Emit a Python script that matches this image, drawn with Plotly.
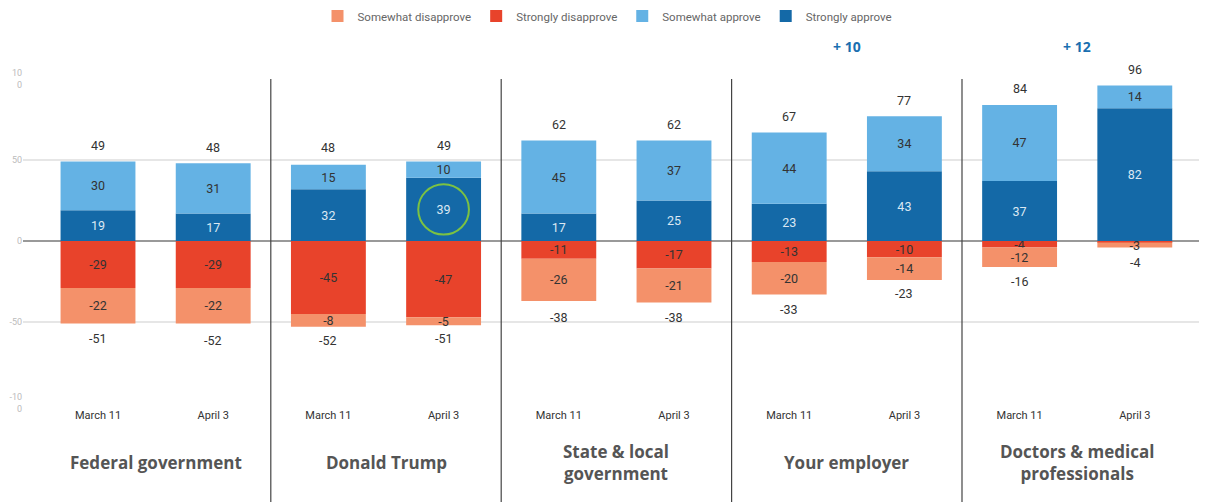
import plotly.graph_objects as go

date_labels = ["March 11", "April 3"] * 5
groups = ["Federal government", "Donald Trump", "State & local<br>government",
          "Your employer", "Doctors & medical<br>professionals"]

strongly_approve = [19, 17, 32, 39, 17, 25, 23, 43, 37, 82]
somewhat_approve = [30, 31, 15, 10, 45, 37, 44, 34, 47, 14]
strongly_disapprove = [-29, -29, -45, -47, -11, -17, -13, -10, -4, -1]
somewhat_disapprove = [-22, -22, -8, -5, -26, -21, -20, -14, -12, -3]
total_approve = [49, 48, 48, 49, 62, 62, 67, 77, 84, 96]
total_disapprove = [-51, -52, -52, -51, -38, -38, -33, -23, -16, -4]
change_groups = [3, 4]
change_labels = ["+ 10", "+ 12"]
highlight_index = 3

x = list(range(len(date_labels)))

C_SOD = "#f4916a"
C_SD = "#e8432b"
C_SOA = "#64b2e4"
C_SA = "#1469a7"

# page has an 8px body margin; figure size compensates so it fits the 1207x502 window
W, H = 1199, 494
L = 15

fig = go.Figure()

def add_bar(vals, name, color, rank, txtcolor):
    fig.add_trace(go.Bar(
        x=x, y=vals, name=name, marker=dict(color=color, line=dict(width=0)),
        width=0.65, text=[str(v) for v in vals], textposition="inside",
        insidetextanchor="middle", textangle=0, constraintext="none",
        textfont=dict(family="Roboto", size=12.5, color=txtcolor),
        legendrank=rank, hoverinfo="skip"))

add_bar(strongly_disapprove, "Strongly disapprove", C_SD, 2, "#333333")
add_bar(somewhat_disapprove, "Somewhat disapprove", C_SOD, 1, "#333333")
add_bar(strongly_approve, "Strongly approve", C_SA, 4, "#dbe8f3")
add_bar(somewhat_approve, "Somewhat approve", C_SOA, 3, "#333333")

# totals
for xi, tp, tn in zip(x, total_approve, total_disapprove):
    fig.add_annotation(x=xi, y=tp, text=str(tp), showarrow=False, yshift=16,
                       font=dict(family="Roboto", size=12.5, color="#333333"))
    fig.add_annotation(x=xi, y=tn, text=str(tn), showarrow=False, yshift=-15,
                       font=dict(family="Roboto", size=12.5, color="#333333"))

# group separators
for g in range(1, len(groups)):
    xs = 2 * g - 0.5
    fig.add_shape(type="line", xref="x", yref="paper", x0=xs, x1=xs, y0=1, y1=-0.31,
                  line=dict(color="#444444", width=1.2))

# group labels
for g, lab in enumerate(groups):
    fig.add_annotation(x=2 * g + 0.5, y=-0.185, xref="x", yref="paper", text=f"<b>{lab}</b>",
                       showarrow=False, font=dict(family="Open Sans", size=17, color="#555555"),
                       yanchor="middle")

# change annotations
for g, lab in zip(change_groups, change_labels):
    fig.add_annotation(x=2 * g + 0.5, y=1.1, xref="x", yref="paper", text=f"<b>{lab}</b>",
                       showarrow=False, font=dict(family="Open Sans", size=14, color="#1a6fb0"),
                       yanchor="middle")

# highlight circle
cy = strongly_approve[highlight_index] / 2
fig.add_shape(type="circle", xref="x", yref="y",
              x0=highlight_index - 0.22, x1=highlight_index + 0.22,
              y0=cy - 15.5, y1=cy + 15.5, line=dict(color="#7cc242", width=2))

px_per_unit = 115.2
x_min = -(90 - L) / px_per_unit
x_max = x_min + (W - L) / px_per_unit

fig.update_layout(
    barmode="relative",
    width=W, height=H,
    margin=dict(l=L, r=0, t=71, b=99, autoexpand=False),
    paper_bgcolor="white", plot_bgcolor="white",
    font=dict(family="Roboto", color="#333333"),
    uniformtext=dict(minsize=12, mode="show"),
    legend=dict(orientation="h", x=0.5, xanchor="center", xref="container",
                y=1 - 8 / H, yanchor="middle", yref="container",
                font=dict(family="Roboto", size=11.5, color="#666666"),
                traceorder="normal"),
    xaxis=dict(tickvals=x, ticktext=date_labels, range=[x_min, x_max],
               showgrid=False, zeroline=False, showline=False, ticks="",
               automargin=False, ticklabelstandoff=4,
               tickfont=dict(family="Roboto", size=11, color="#333333")),
    yaxis=dict(range=[-100, 100], tickvals=[100, 50, 0, -50, -100],
               ticktext=["10<br>0", "50", "0", "-50", "-10<br>0"],
               tickfont=dict(family="Roboto", size=9, color="#bbbbbb"),
               showgrid=True, gridcolor="#e6e6e6", gridwidth=2,
               zeroline=True, zerolinecolor="#999999", zerolinewidth=2,
               ticks="", ticklabelstandoff=0, automargin=False),
    showlegend=True,
)

fig.write_html("out.html")
